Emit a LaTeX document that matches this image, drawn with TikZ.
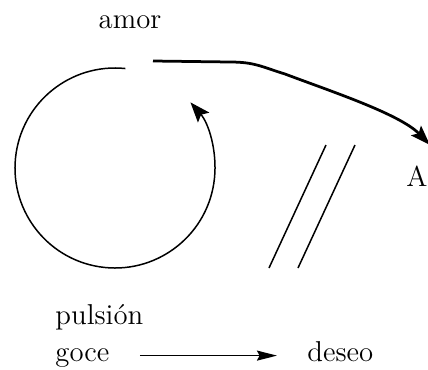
\documentclass[tikz,border=0pt]{standalone}
\usepackage{tikz}
\usetikzlibrary{arrows.meta,positioning,calc}

\begin{document}
\begin{tikzpicture}[
    x=0.4pt, y=0.4pt,
    lbl/.style={inner sep=0pt, font=\fontsize{11.5}{13}\selectfont},
    thin line/.style={line width=0.6pt},
    loop arrow/.style={-{Stealth[length=8pt,width=6pt,inset=1.5pt]}, line width=0.6pt},
    big arrow/.style={-{Stealth[length=8pt,width=5.5pt,inset=1.5pt]}, line width=1.1pt},
    connector/.style={-{Stealth[length=8pt,width=4pt,inset=1pt]}, line width=0.6pt, shorten <=12pt, shorten >=12pt}
]
    \useasboundingbox (0,0) rectangle (428,369);

    % Nodes
    \node[lbl, anchor=base] (amor) at (130,341) {amor};
    \node[lbl, anchor=west] (A) at (406,193) {A};
    \node[lbl, anchor=base west] (goce) at (55,8) {goce};
    \node[lbl, anchor=base west] (pulsion) at (55,45) {pulsión};
    \node[lbl, anchor=base west] (deseo) at (307,8) {deseo};

    \coordinate (centre) at (115,201);
    \coordinate (start) at (153,308);
    \coordinate (tip) at (430,224);

    % Loop
    \draw[loop arrow] (centre) ++(84:100) arc[start angle=84, end angle=401, radius=100];

    % Connections
    \draw[big arrow] (start) -- (230,307) .. controls (255,307) and (262,302) .. (285,295)
        .. controls (330,278) and (400,255) .. (tip);
    \draw[connector] (goce.mid east) -- (deseo.mid west);

    % Bars
    \draw[thin line] (326,224) -- (269,101);
    \draw[thin line] (355,224) -- (298,101);
\end{tikzpicture}
\end{document}
